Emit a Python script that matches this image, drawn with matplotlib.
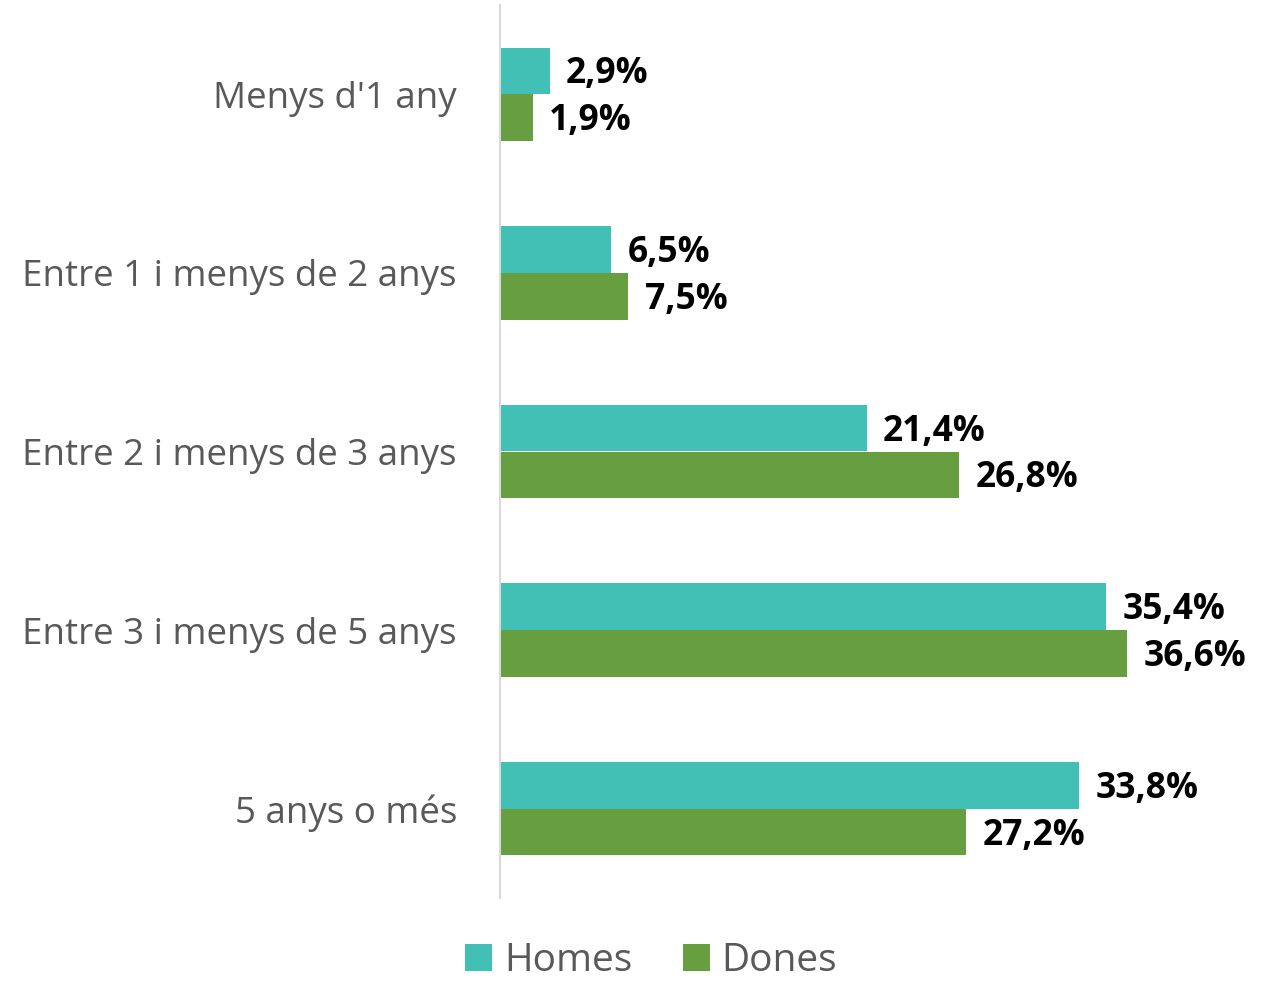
import numpy as np
import matplotlib.pyplot as plt

# time in the company, by sex (%)
categories = ["Menys d'1 any", "Entre 1 i menys de 2 anys", "Entre 2 i menys de 3 anys",
              "Entre 3 i menys de 5 anys", "5 anys o més"]
homes = [2.9, 6.5, 21.4, 35.4, 33.8]
dones = [1.9, 7.5, 26.8, 36.6, 27.2]

c_homes = "#43C0B5"
c_dones = "#679E3F"

plt.rcParams['font.family'] = ['Open Sans', 'DejaVu Sans']

fig = plt.figure(figsize=(12.81, 9.83), dpi=100)
ax = fig.add_axes([500 / 1281, 85 / 983, 781 / 1281, 893 / 983])

y = np.arange(len(categories))
h = 0.262
ax.barh(y - h / 2, homes, height=h, color=c_homes, label="Homes")
ax.barh(y + h / 2, dones, height=h, color=c_dones, label="Dones")

for yi, v in zip(y, homes):
    ax.text(v + 0.95, yi - h / 2 + 0.02, f"{v:.1f}%".replace(".", ","), va="center", ha="left",
            fontsize=25.5, fontweight="bold", color="black")
for yi, v in zip(y, dones):
    ax.text(v + 0.95, yi + h / 2 + 0.02, f"{v:.1f}%".replace(".", ","), va="center", ha="left",
            fontsize=25.5, fontweight="bold", color="black")

ax.set_xlim(0, 781 / 17.13)
ax.set_ylim(len(categories) - 0.5, -0.5)
ax.set_yticks(y)
ax.set_yticklabels(categories, fontsize=26.5, color="#595959")
ax.tick_params(axis="y", length=0, pad=31)
ax.set_xticks([])
for s in ["top", "right", "bottom"]:
    ax.spines[s].set_visible(False)
ax.spines["left"].set_color("#D9D9D9")
ax.spines["left"].set_linewidth(1.5)

fig.legend(loc="center", bbox_to_anchor=(651 / 1281, 1 - 961 / 983), ncol=2, frameon=False,
           fontsize=28, labelcolor="#595959", handlelength=0.7, handleheight=0.7,
           handletextpad=0.3, columnspacing=1.3)

fig.savefig("out.png", dpi=100, facecolor="white")
